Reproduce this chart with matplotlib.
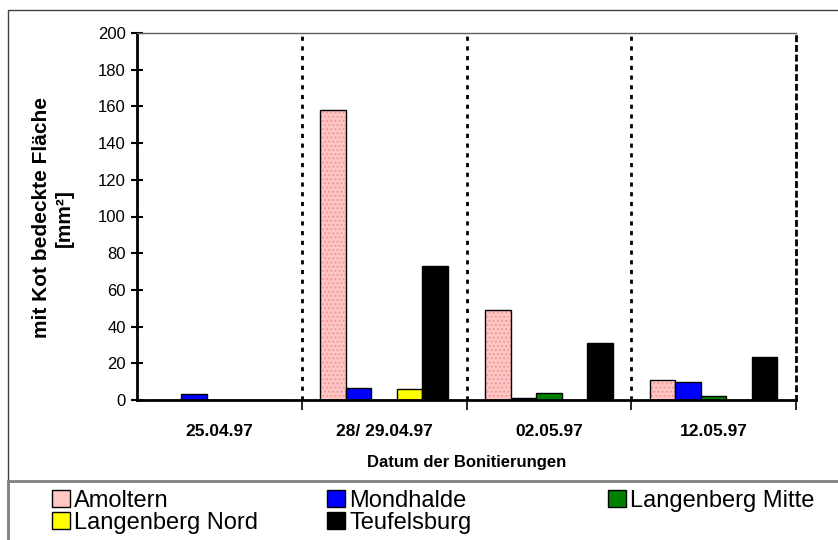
import numpy as np
import matplotlib.pyplot as plt
from matplotlib.patches import Patch, Rectangle

plt.rcParams['font.family'] = ['Liberation Sans', 'DejaVu Sans']

# Data
dates = ['25.04.97', '28/ 29.04.97', '02.05.97', '12.05.97']
sites = ['Amoltern', 'Mondhalde', 'Langenberg Mitte', 'Langenberg Nord', 'Teufelsburg']
amoltern = [0, 158, 49, 11]
mondhalde = [3, 6.5, 1, 10]
lb_mitte = [0, 0, 4, 2]
lb_nord = [0, 6, 0, 0]
teufelsburg = [0, 73, 31, 23.5]
values = [amoltern, mondhalde, lb_mitte, lb_nord, teufelsburg]
colors = ['#ffc6c6', '#0000ff', '#008000', '#ffff00', '#000000']

fig = plt.figure(figsize=(8.38, 5.4), dpi=100)
ax = fig.add_axes([137 / 838, 1 - 400 / 540, (796 - 137) / 838, (400 - 33) / 540])

x = np.arange(len(dates))
w = 0.155
for k, (vals, c) in enumerate(zip(values, colors)):
    pos = x + (k - 2) * w
    if k == 0:
        # pink dotted fill, then black outline
        ax.bar(pos, vals, w, color=c, edgecolor='#f29a9a', hatch='....', linewidth=0)
        ax.bar(pos, vals, w, fill=False, edgecolor='black', linewidth=1)
    else:
        ax.bar(pos, vals, w, color=c, edgecolor='black', linewidth=1)

# group separators
for b in [0.5, 1.5, 2.5]:
    ax.axvline(b, color='black', linestyle=(0, (1.5, 2)), linewidth=2, zorder=0)

ax.set_xlim(-0.5, 3.5)
ax.set_ylim(0, 200)
ax.set_yticks(np.arange(0, 201, 20))
ax.set_xticks(x)
ax.set_xticklabels(dates, fontsize=12.5, fontweight='bold')
ax.set_xticks([0.5, 1.5, 2.5, 3.5], minor=True)
ax.tick_params(axis='x', which='major', length=0, pad=17)
ax.tick_params(axis='x', which='minor', length=7, width=1.2, direction='out')
ax.tick_params(axis='y', labelsize=12, direction='inout', length=8, width=1.5, pad=4)

ax.spines['left'].set_linewidth(2)
ax.spines['bottom'].set_linewidth(2)
ax.spines['top'].set_color('#606060')
ax.spines['top'].set_linewidth(1)
ax.spines['right'].set_linestyle((0, (1.5, 2)))
ax.spines['right'].set_linewidth(2)

fig.text(467 / 838, 1 - 462 / 540, 'Datum der Bonitierungen', ha='center', va='center',
         fontsize=12, fontweight='bold')
fig.text(53 / 838, 1 - 218 / 540, 'mit Kot bedeckte Fläche\n[mm²]', rotation=90,
         ha='center', va='center', multialignment='center', fontsize=15,
         fontweight='bold', linespacing=1.25)

# outer frame and legend box
fig.patches.append(Rectangle((8 / 838, -0.1), 1.2, 1 - 10 / 540 + 0.1, transform=fig.transFigure,
                             fill=False, edgecolor='#404040', linewidth=1))
fig.patches.append(Rectangle((8 / 838, -0.1), 1.2, (540 - 481) / 540 + 0.1, transform=fig.transFigure,
                             fill=False, edgecolor='#808080', linewidth=2))

handles = [Patch(facecolor=c, edgecolor='black', linewidth=1) for c in colors]
columns = [([0, 3], 52), ([1, 4], 327), ([2], 608)]
for idx, xpos in columns:
    fig.legend([handles[i] for i in idx], [sites[i] for i in idx],
               loc='upper left', bbox_to_anchor=(xpos / 838, 1 - 490 / 540),
               frameon=False, fontsize=17, handlelength=0.75, handleheight=0.75,
               handletextpad=0.2, labelspacing=0.0, borderpad=0, borderaxespad=0)

fig.savefig('out.png', dpi=100)
